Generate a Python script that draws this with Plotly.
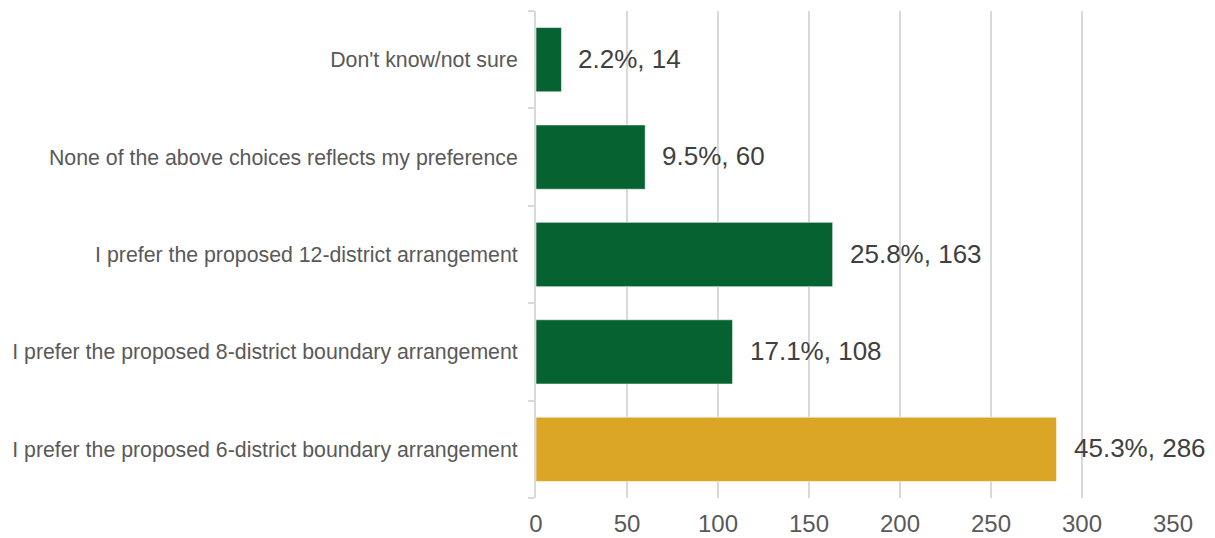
import plotly.graph_objects as go

# Survey responses (bottom to top on the chart)
categories = [
    "I prefer the proposed 6-district boundary arrangement",
    "I prefer the proposed 8-district boundary arrangement",
    "I prefer the proposed 12-district arrangement",
    "None of the above choices reflects my preference",
    "Don't know/not sure",
]
counts = [286, 108, 163, 60, 14]
percents = [45.3, 17.1, 25.8, 9.5, 2.2]
bar_colors = ["#DBA526", "#076232", "#076232", "#076232", "#076232"]

FONT = "Liberation Sans, Arial, sans-serif"
GRID = "#D9D9D9"

fig = go.Figure()
fig.add_trace(go.Bar(
    y=categories,
    x=counts,
    orientation="h",
    marker=dict(color=bar_colors, line=dict(color="rgba(255,255,255,0.55)", width=1)),
    hoverinfo="skip",
))

# Value labels to the right of each bar
for cat, n, p in zip(categories, counts, percents):
    fig.add_annotation(
        x=n, y=cat, text=f"{p}%, {n}",
        xanchor="left", yanchor="middle", xshift=15, yshift=1,
        showarrow=False,
        font=dict(family=FONT, size=26, color="#404040"),
    )

fig.update_layout(
    width=1215, height=538,
    margin=dict(l=536, r=42, t=11, b=40),
    paper_bgcolor="white", plot_bgcolor="white",
    bargap=0.34,
    showlegend=False,
    font=dict(family=FONT, color="#595959"),
)
fig.update_xaxes(
    range=[0, 350], dtick=50, tick0=0,
    showgrid=True, gridcolor=GRID, gridwidth=2,
    zeroline=False, showline=False,
    ticks="", ticklabelstandoff=9,
    automargin=False,
    tickfont=dict(family=FONT, size=24, color="#595959"),
    fixedrange=True,
)
fig.update_yaxes(
    categoryorder="array", categoryarray=categories,
    showline=True, linecolor=GRID, linewidth=2,
    ticks="outside", tickson="boundaries", ticklen=6, tickwidth=2, tickcolor=GRID,
    ticklabelstandoff=12,
    automargin=False,
    showgrid=False, zeroline=False,
    tickfont=dict(family=FONT, size=21.3, color="#595959"),
    fixedrange=True,
)

fig.write_html("out.html")
